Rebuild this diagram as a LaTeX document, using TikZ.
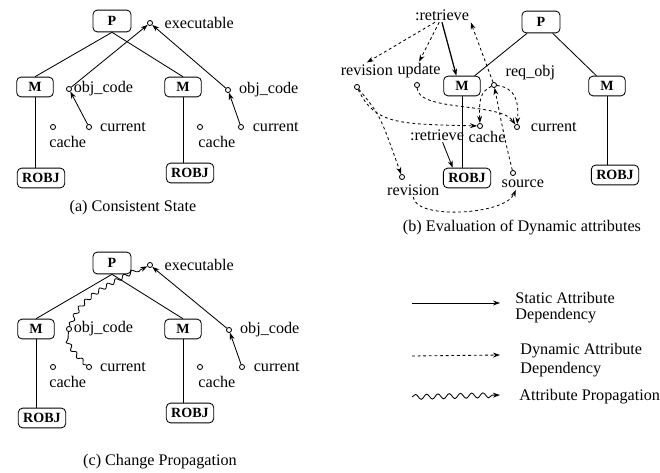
\documentclass[tikz,border=0pt]{standalone}
\usepackage{fontspec}
\setmainfont{Liberation Serif}
\usetikzlibrary{positioning,arrows.meta,decorations.pathmorphing}

\tikzset{
  obj/.style={draw, rounded corners=3pt, font=\bfseries, inner xsep=3.5pt, inner ysep=1pt,
    minimum width=26pt, minimum height=14pt},
  attr/.style={draw, circle, inner sep=0pt, minimum size=3.6pt},
  lbl/.style={inner sep=1pt},
  stat/.style={-{Stealth[length=5pt,width=3.5pt]}},
  dyn/.style={dash pattern=on 2pt off 2pt, -{Stealth[length=5pt,width=3.5pt]}},
  prop/.style={decorate, decoration={snake, amplitude=1.4pt, segment length=6.5pt, post length=3pt}},
}

\begin{document}
\begin{tikzpicture}[x=0.025cm, y=-0.025cm, line width=0.6pt, font=\fontsize{11.5}{12}\selectfont]
\useasboundingbox (0,0) rectangle (660,473);

% (a) consistent state
\node[obj, minimum width=27pt, minimum height=15.5pt] (Pa) at (112,21) {P};
\node[obj] (Ma1) at (35,87) {M};
\node[obj] (Ma2) at (183,87) {M};
\node[obj] (Ra1) at (41,178) {ROBJ};
\node[obj] (Ra2) at (190,173) {ROBJ};
\node[attr] (exa) at (150,23) {};
\node[lbl, right=7pt of exa] (exat) {executable};
\node[attr] (oca1) at (69,89) {};
\node[lbl, right=0pt of oca1] (ocat1) {obj\_code};
\node[attr] (oca2) at (228,90) {};
\node[lbl, right=4.5pt of oca2] (ocat2) {obj\_code};
\node[attr] (cua1) at (89,127) {};
\node[lbl, right=4.5pt of cua1] (cuat1) {current};
\node[attr] (cua2) at (241,127) {};
\node[lbl, right=5pt of cua2] (cuat2) {current};
\node[attr] (caa1) at (53,127) {};
\node[lbl, below=3.5pt of caa1, xshift=10.5pt] (caat1) {cache};
\node[attr] (caa2) at (200,127) {};
\node[lbl, below=3.5pt of caa2, xshift=12pt] (caat2) {cache};
\node (capa) at (133,208) {(a) Consistent State};

\draw (Pa.south) -- (Ma1.north);
\draw (Pa.south) -- (Ma2.north);
\draw (Ma1.south) -- (Ma1.south |- Ra1.north);
\draw (Ma2.south) -- (Ma2.south |- Ra2.north);
\draw[stat] (oca1) -- (exa);
\draw[stat] (oca2) -- (exa);
\draw[stat] (cua1) -- (oca1);
\draw[stat] (cua2) -- (oca2);

% (b) evaluation of dynamic attributes
\node[lbl] (retr) at (442,15) {:retrieve};
\node[obj, minimum width=27pt, minimum height=15.5pt] (Pb) at (541,22) {P};
\node[obj] (Mb1) at (462,86) {M};
\node[obj] (Mb2) at (607,86) {M};
\node[obj] (Rb1) at (467,178) {ROBJ};
\node[obj] (Rb2) at (615,175) {ROBJ};
\node[attr] (revc) at (357,87) {};
\node[lbl, above=5pt of revc, xshift=7pt] (revt) {revision};
\node[attr] (updc) at (417,85) {};
\node[lbl, above=1.5pt of updc, xshift=1.5pt] (updt) {update};
\node[attr] (reqc) at (494,85) {};
\node[lbl, above right=1pt and 5.5pt of reqc] (reqt) {req\_obj};
\node[attr] (cacc) at (480,126) {};
\node[lbl, below=0pt of cacc, xshift=5pt] (cact) {cache};
\node[attr] (curc) at (517,127) {};
\node[lbl, right=6.5pt of curc] (curt) {current};
\node[lbl] (ret2) at (437,135) {:retrieve};
\node[attr] (rev2c) at (402,177) {};
\node[lbl, below=1.8pt of rev2c, xshift=8pt] (rev2t) {revision};
\node[attr] (srcc) at (513,173) {};
\node[lbl, below=1.8pt of srcc, xshift=7pt] (srct) {source};
\node (capb) at (522,228) {(b) Evaluation of Dynamic attributes};

\draw (Pb) -- (Mb1);
\draw (Pb) -- (Mb2);
\draw (Mb1.south) -- (Mb1.south |- Rb1.north);
\draw (Mb2.south) -- (Mb2.south |- Rb2.north);
\draw[stat, line width=0.9pt] (retr.south) -- ([xshift=-4pt]Mb1.north);
\draw[stat] ([xshift=4pt]ret2.south) -- ([xshift=7pt]Rb1.north west);
\draw[dyn] ([xshift=-5pt]retr.south) -- (revt.north);
\draw[dyn] ([xshift=-2pt]retr.south) -- (updt.north);
\draw[dyn] (reqc) -- (retr.south east);
\draw[dyn] (reqc) .. controls (480,92) and (479,100) .. (cacc);
\draw[dyn] (reqc) .. controls (515,88) and (519,100) .. (curc);
\draw[dyn] (updc) .. controls (418,112) and (500,102) .. (curc);
\draw[dyn] (revc) .. controls (375,125) and (400,124) .. (cacc);
\draw[dyn] (revc) .. controls (380,115) .. (rev2c);
\draw[dyn] (rev2t.south) .. controls (415,220) and (505,215) .. ([xshift=-5pt]srct.south);
\draw[dyn] (srcc) .. controls (505,140) .. (reqc);

% legend
\coordinate (sta) at (412,303);
\coordinate (stb) at (500,303);
\coordinate (dya) at (412,356);
\coordinate (dyb) at (500,355);
\coordinate (pra) at (412,397);
\coordinate (prb) at (500,395);
\draw[stat] (sta) -- (stb);
\draw[dyn] (dya) -- (dyb);
\draw[prop, decoration={amplitude=1.8pt, segment length=8pt}, -{Stealth[length=5pt,width=3.5pt]}] (pra) -- (prb);
\node[anchor=west, align=left, inner sep=0pt, font=\fontsize{11.5}{11.4}\selectfont] (stt) at (515,308) {Static Attribute\\Dependency};
\node[anchor=west, align=left, inner sep=0pt, font=\fontsize{11.5}{13}\selectfont] (dyt) at (520,360) {Dynamic Attribute\\Dependency};
\node[anchor=west, inner sep=0pt] (prt) at (519,397) {Attribute Propagation};

% (c) change propagation
\node[obj, minimum width=27pt, minimum height=15.5pt] (Pc) at (112,263) {P};
\node[obj] (Mc1) at (36,329) {M};
\node[obj] (Mc2) at (183,329) {M};
\node[obj] (Rc1) at (42,418) {ROBJ};
\node[obj] (Rc2) at (190,413) {ROBJ};
\node[attr] (exc) at (150,265) {};
\node[lbl, right=7pt of exc] (exct) {executable};
\node[attr] (occ1) at (69,329) {};
\node[lbl, right=0pt of occ1] (occt1) {obj\_code};
\node[attr] (occ2) at (229,330) {};
\node[lbl, right=4.5pt of occ2] (occt2) {obj\_code};
\node[attr] (cuc1) at (89,367) {};
\node[lbl, right=4.5pt of cuc1] (cuct1) {current};
\node[attr] (cuc2) at (242,367) {};
\node[lbl, right=5pt of cuc2] (cuct2) {current};
\node[attr] (cac1) at (53,367) {};
\node[lbl, below=3.5pt of cac1, xshift=10.5pt] (cact1) {cache};
\node[attr] (cac2) at (200,367) {};
\node[lbl, below=3.5pt of cac2, xshift=12pt] (cact2) {cache};
\node (capc) at (160,462) {(c) Change Propagation};

\draw (Pc.south) -- (Mc1.north);
\draw (Pc.south) -- (Mc2.north);
\draw (Mc1.south) -- (Mc1.south |- Rc1.north);
\draw (Mc2.south) -- (Mc2.south |- Rc2.north);
\draw[prop] (cuc1) .. controls (78,357) and (66,345) .. (occ1);
\draw[prop, -{Stealth[length=5pt,width=3.5pt]}] (occ1) .. controls (80,300) and (100,290) .. (exc);
\draw[stat] (occ2) -- (exc);
\draw[stat] (cuc2) -- (occ2);
\end{tikzpicture}
\end{document}
